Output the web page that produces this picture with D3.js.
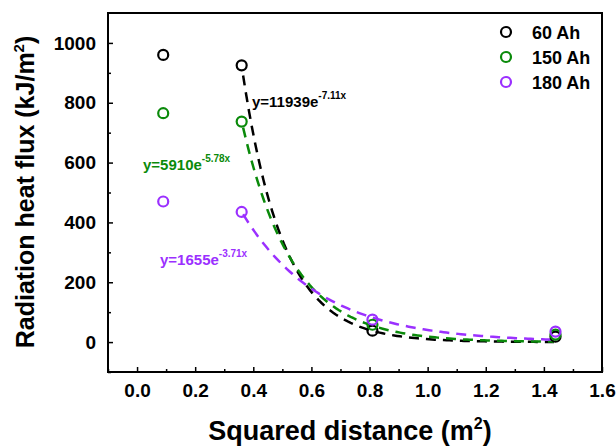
<!DOCTYPE html>
<html><head><meta charset="utf-8">
<script src="https://d3js.org/d3.v7.min.js"></script>
<style>body{margin:0;background:#fff}text{font-family:"Liberation Sans",Arial,sans-serif;font-weight:bold}</style>
</head><body><svg id="c" width="616" height="447"></svg>
<script>
// measured points
const distances = [0.09, 0.36, 0.81, 1.44];
const flux60 = [960, 925, 38, 18];
const flux150 = [765, 737, 58, 25];
const flux180 = [470, 435, 75, 35];
const seriesNames = ["60 Ah", "150 Ah", "180 Ah"];
const colors = ["#000000", "#0a8a0a", "#9b30ff"];
const fitA = [11939, 5910, 1655];
const fitB = [7.11, 5.78, 3.71];
const fitLabels = ["y=11939e", "y=5910e", "y=1655e"];
const fitExps = ["-7.11x", "-5.78x", "-3.71x"];
const xTicks = [0, 0.2, 0.4, 0.6, 0.8, 1.0, 1.2, 1.4, 1.6];
const yTicks = [0, 200, 400, 600, 800, 1000];

const svg = d3.select("#c");
const x = d3.scaleLinear().domain([-0.1, 1.6]).range([108, 602]);
const y = d3.scaleLinear().domain([-100, 1100]).range([372, 13]);

svg.append("rect").attr("x", 108).attr("y", 13).attr("width", 494).attr("height", 359)
  .attr("fill", "none").attr("stroke", "#000").attr("stroke-width", 2);

const xa = svg.append("g").attr("transform", "translate(0,372)")
  .call(d3.axisBottom(x).tickValues(xTicks).tickFormat(d3.format(".1f")).tickSizeInner(-5).tickSizeOuter(0).tickPadding(12));
const xm = svg.append("g").attr("transform", "translate(0,372)")
  .call(d3.axisBottom(x).tickValues(d3.range(-0.1, 1.6, 0.2)).tickFormat("").tickSizeInner(-3).tickSizeOuter(0));
const ya = svg.append("g").attr("transform", "translate(108,0)")
  .call(d3.axisLeft(y).tickValues(yTicks).tickFormat(d3.format("d")).tickSizeInner(-5).tickSizeOuter(0).tickPadding(12));
const ym = svg.append("g").attr("transform", "translate(108,0)")
  .call(d3.axisLeft(y).tickValues(d3.range(-100, 1100, 200)).tickFormat("").tickSizeInner(-3).tickSizeOuter(0));
[xa, xm, ya, ym].forEach(g => {
  g.select(".domain").remove();
  g.selectAll("line").attr("stroke-width", 1.5);
});
xa.selectAll("text").attr("font-size", 19).attr("fill", "#000");
ya.selectAll("text").attr("font-size", 19).attr("fill", "#000");

svg.append("text").attr("x", 350).attr("y", 440).attr("text-anchor", "middle").attr("font-size", 27)
  .html('Squared distance (m<tspan dy="-11" font-size="16">2</tspan><tspan dy="11">)</tspan>');
svg.append("text").attr("transform", "translate(34,192) rotate(-90)").attr("text-anchor", "middle").attr("font-size", 25)
  .html('Radiation heat flux (kJ/m<tspan dy="-10" font-size="15">2</tspan><tspan dy="10">)</tspan>');

// fit curves
const line = d3.line().x(d => x(d[0])).y(d => y(d[1]));
const xs = d3.range(0.365, 1.445, 0.01);
fitA.forEach((a, i) => {
  svg.append("path").attr("d", line(xs.map(v => [v, a * Math.exp(-fitB[i] * v)])))
    .attr("fill", "none").attr("stroke", colors[i]).attr("stroke-width", 2.5).attr("stroke-dasharray", "10,7");
});

// points
[flux60, flux150, flux180].forEach((vals, i) => {
  svg.append("g").selectAll("circle").data(vals).join("circle")
    .attr("cx", (d, j) => x(distances[j])).attr("cy", d => y(d)).attr("r", 5)
    .attr("fill", "none").attr("stroke", colors[i]).attr("stroke-width", 2.2);
});

// fit labels
const labelPos = [[252, 107], [143, 170], [160, 265]];
fitLabels.forEach((t, i) => {
  svg.append("text").attr("x", labelPos[i][0]).attr("y", labelPos[i][1]).attr("font-size", 15).attr("fill", colors[i])
    .html(t + '<tspan dy="-8" font-size="10">' + fitExps[i] + '</tspan>');
});

// legend
seriesNames.forEach((n, i) => {
  svg.append("circle").attr("cx", 506).attr("cy", 32 + i * 25).attr("r", 5)
    .attr("fill", "none").attr("stroke", colors[i]).attr("stroke-width", 2.2);
  svg.append("text").attr("x", 532).attr("y", 39 + i * 25).attr("font-size", 18).text(n);
});
</script></body></html>
